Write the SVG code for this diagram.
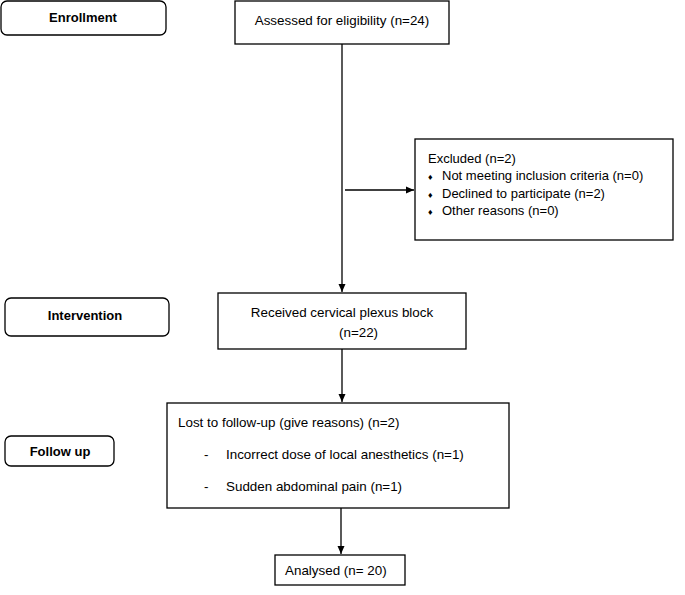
<svg xmlns="http://www.w3.org/2000/svg" width="685" height="595" viewBox="0 0 685 595">
<style>
.box{fill:#fff;stroke:#000;stroke-width:1.3}
.lbl{fill:#fff;stroke:#000;stroke-width:1.3}
.t{font-family:"Liberation Sans",Arial,sans-serif;font-size:13.4px;fill:#000}
.s{font-size:13px}
.b{font-family:"Liberation Sans",Arial,sans-serif;font-size:13px;font-weight:bold;fill:#000}
.c{fill:none;stroke:#000;stroke-width:1.3}
</style>
<defs>
<marker id="ah" markerWidth="9" markerHeight="9" refX="8" refY="4" orient="auto" markerUnits="userSpaceOnUse">
<path d="M0,0.5 L8,4 L0,7.5 Z" fill="#000"/>
</marker>
</defs>
<rect width="685" height="595" fill="#fff"/>
<g id="connectors">
<line class="c" x1="342" y1="44" x2="342" y2="292" marker-end="url(#ah)"/>
<line class="c" x1="345" y1="190" x2="414" y2="190" marker-end="url(#ah)"/>
<line class="c" x1="342" y1="349" x2="342" y2="402" marker-end="url(#ah)"/>
<line class="c" x1="341" y1="508" x2="341" y2="554" marker-end="url(#ah)"/>
</g>
<g id="enrollment">
<rect class="lbl" x="1" y="1" width="165" height="34" rx="6"/>
<text class="b" x="83" y="22" text-anchor="middle">Enrollment</text>
</g>
<g id="assessed">
<rect class="box" x="235" y="1" width="214" height="43"/>
<text class="t" x="342" y="25" text-anchor="middle">Assessed for eligibility (n=24)</text>
</g>
<g id="excluded">
<rect class="box" x="415" y="139" width="258" height="101"/>
<text class="t s" x="428" y="163">Excluded (n=2)</text>
<text class="t s" x="428" y="180"><tspan font-size="9">♦</tspan><tspan x="442">Not meeting inclusion criteria (n=0)</tspan></text>
<text class="t s" x="428" y="198"><tspan font-size="9">♦</tspan><tspan x="442">Declined to participate (n=2)</tspan></text>
<text class="t s" x="428" y="215"><tspan font-size="9">♦</tspan><tspan x="442">Other reasons (n=0)</tspan></text>
</g>
<g id="intervention">
<rect class="lbl" x="5" y="298" width="164" height="38" rx="6"/>
<text class="b" x="85" y="320" text-anchor="middle">Intervention</text>
</g>
<g id="received">
<rect class="box" x="218" y="293" width="248" height="56"/>
<text class="t" x="342" y="317" text-anchor="middle">Received cervical plexus block</text>
<text class="t" x="339" y="337">(n=22)</text>
</g>
<g id="followup">
<rect class="lbl" x="5" y="436" width="109" height="30" rx="6"/>
<text class="b" x="60" y="456" text-anchor="middle">Follow up</text>
</g>
<g id="lost">
<rect class="box" x="167" y="403" width="342" height="105"/>
<text class="t" x="178" y="427">Lost to follow-up (give reasons) (n=2)</text>
<text class="t" x="204" y="459">-</text>
<text class="t" x="226" y="459">Incorrect dose of local anesthetics (n=1)</text>
<text class="t" x="204" y="491">-</text>
<text class="t" x="226" y="491">Sudden abdominal pain (n=1)</text>
</g>
<g id="analysed">
<rect class="box" x="275" y="555" width="130" height="30"/>
<text class="t" x="285" y="575">Analysed (n= 20)</text>
</g>
</svg>
